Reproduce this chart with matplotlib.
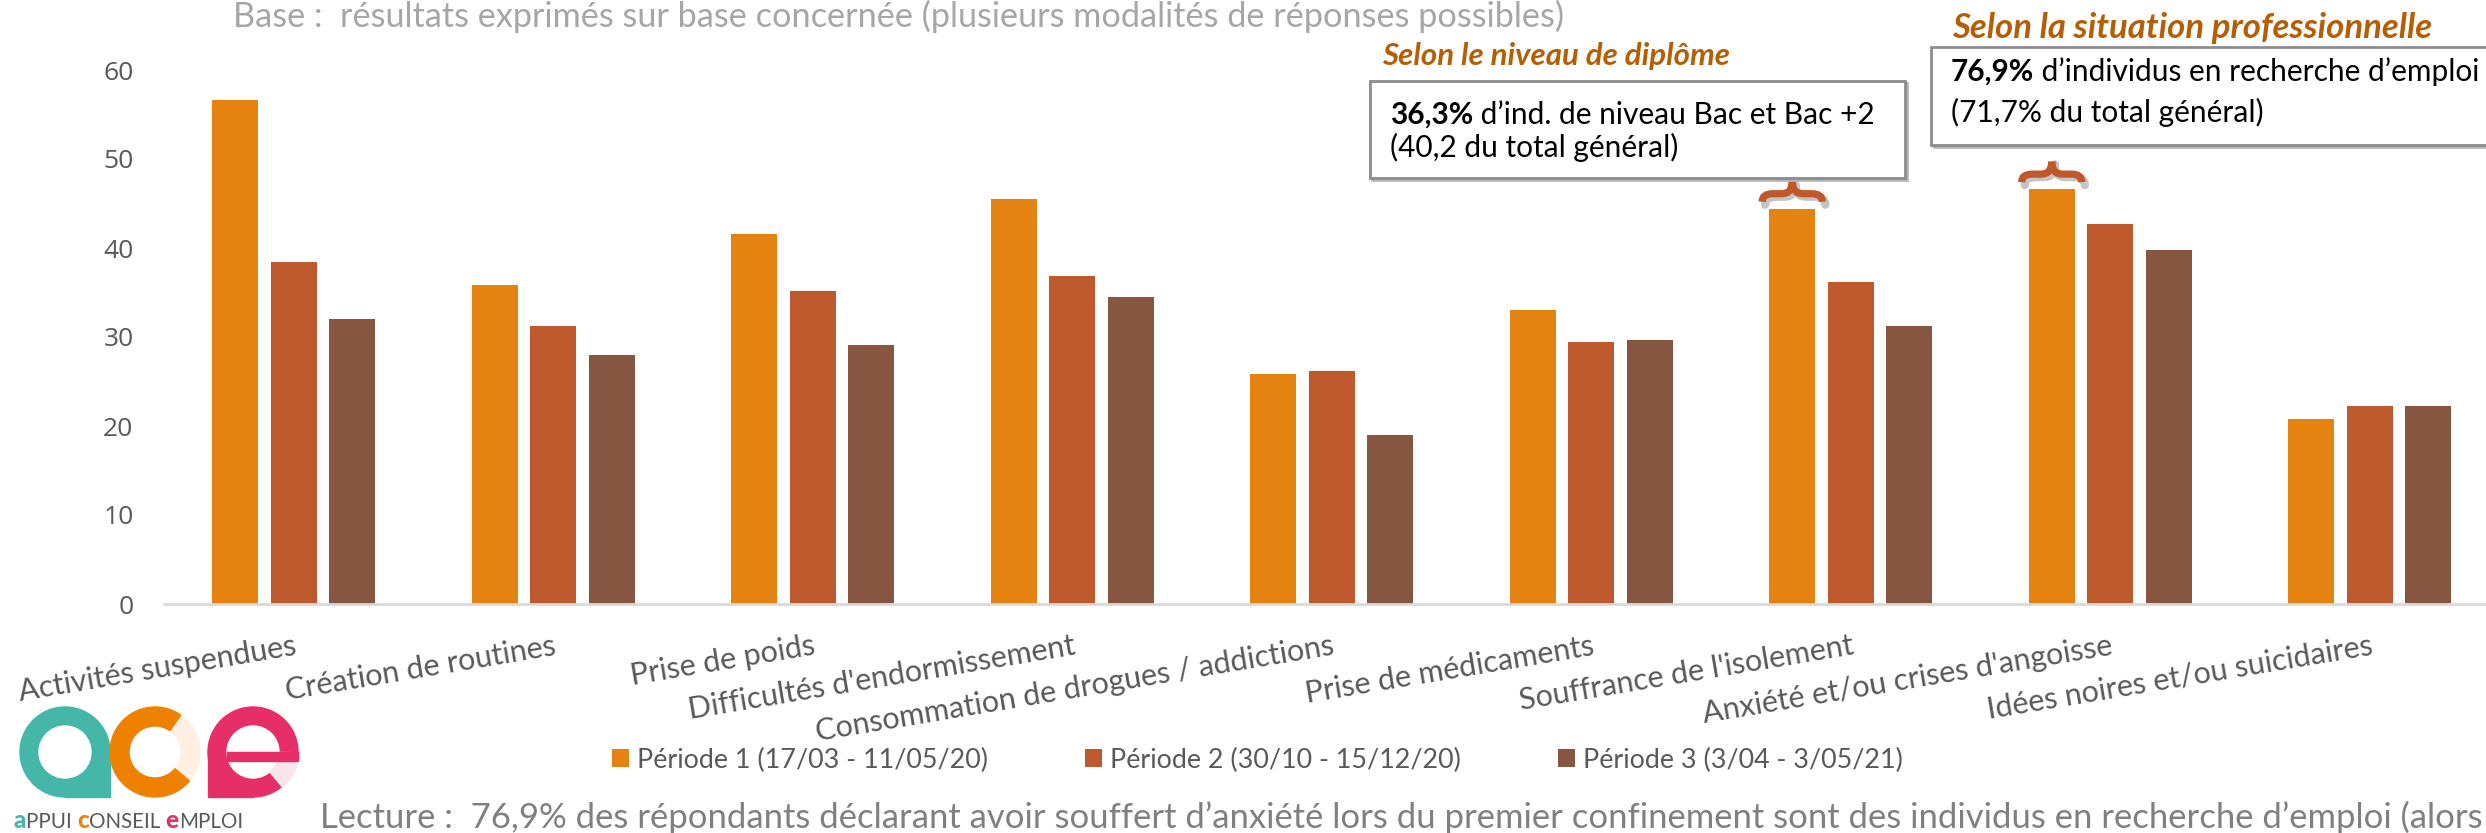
import matplotlib
matplotlib.use('Agg')
import matplotlib.pyplot as plt
import numpy as np
from matplotlib.patches import Rectangle, Circle, Wedge, PathPatch
from matplotlib.path import Path
import matplotlib.transforms as mtransforms

plt.rcParams['font.family'] = ['Lato', 'DejaVu Sans']

# ---------------- data ----------------
categories = ["Activités suspendues", "Création de routines", "Prise de poids",
              "Difficultés d'endormissement", "Consommation de drogues / addictions",
              "Prise de médicaments", "Souffrance de l'isolement",
              "Anxiété et/ou crises d'angoisse", "Idées noires et/ou suicidaires"]
periode1 = [56.6, 35.8, 41.6, 45.5, 25.8, 33.0, 44.4, 46.6, 20.8]
periode2 = [38.4, 31.2, 35.2, 36.9, 26.2, 29.4, 36.2, 42.7, 22.2]
periode3 = [32.0, 28.0, 29.1, 34.5, 19.0, 29.7, 31.2, 39.8, 22.2]
series_labels = ["Période 1 (17/03 - 11/05/20)", "Période 2 (30/10 - 15/12/20)",
                 "Période 3 (3/04 - 3/05/21)"]
yticks = [0, 10, 20, 30, 40, 50, 60]
brace_categories = ["Souffrance de l'isolement", "Anxiété et/ou crises d'angoisse"]

colors = ["#E58312", "#BE582D", "#875640"]
BRACE = "#C0582A"
TITLE_COL = "#B45F06"

W, H = 2486, 833
fig = plt.figure(figsize=(W / 100, H / 100), dpi=100)
def fx(px): return px / W
def fy(py): return 1 - py / H

ax = fig.add_axes([fx(164), fy(604), fx(2486) - fx(164), fy(70) - fy(604)])
ax.set_facecolor('none')
x = np.arange(len(categories))
pitch = 259.5
offsets = [-58.5 / pitch, 0.0, 58.5 / pitch]
bw = 46 / pitch
bars = []
for vals, off, col, lab in zip([periode1, periode2, periode3], offsets, colors, series_labels):
    bars.append(ax.bar(x + off, vals, width=bw, color=col, label=lab, zorder=2))

ax.set_xlim(-0.5, -0.5 + (2486 - 164) / pitch)
ax.set_ylim(0, 60)
ax.set_yticks(yticks)
ax.set_yticklabels([str(v) for v in yticks], family=['Open Sans', 'DejaVu Sans'],
                   fontsize=19, color="#595959")
ax.set_xticks(x)
ax.set_xticklabels(categories, rotation=9.5, ha='right', rotation_mode='anchor',
                   fontsize=22, color="#595959")
ax.tick_params(axis='y', length=0, pad=22)
ax.tick_params(axis='x', length=0, pad=20)
for s in ['top', 'right', 'left']:
    ax.spines[s].set_visible(False)
ax.spines['bottom'].set_color("#D9D9D9")
ax.spines['bottom'].set_linewidth(2)

# ---------------- braces ----------------
def brace(xc, v, half):
    xl, xr = xc - half, xc + half
    y0, y1, yt = v + 0.8, v + 1.7, v + 3.1
    r = half * 0.35
    verts = [(xl, y0), (xl, y1), (xl + r, y1), (xc - r, y1), (xc, y1), (xc, yt),
             (xc, yt), (xc, y1), (xc + r, y1), (xr - r, y1), (xr, y1), (xr, y0)]
    codes = [Path.MOVETO, Path.CURVE3, Path.CURVE3, Path.LINETO, Path.CURVE3, Path.CURVE3,
             Path.MOVETO, Path.CURVE3, Path.CURVE3, Path.LINETO, Path.CURVE3, Path.CURVE3]
    p = Path(verts, codes)
    sh = mtransforms.offset_copy(ax.transData, fig=fig, x=3, y=-3, units='dots')
    ax.add_patch(PathPatch(p, fill=False, edgecolor='#808080', alpha=0.45, lw=6,
                           capstyle='round', transform=sh, clip_on=False, zorder=4))
    ax.add_patch(PathPatch(p, fill=False, edgecolor=BRACE, lw=5.2, capstyle='butt',
                           clip_on=False, zorder=5))

for cat in brace_categories:
    i = categories.index(cat)
    brace(x[i] + offsets[0], periode1[i], 0.116)

# overlay axes (figure pixel coordinates) above the chart
over = fig.add_axes([0, 0, 1, 1])
over.set_xlim(0, W); over.set_ylim(0, H); over.axis('off')
over.set_zorder(10)

# ---------------- helper for multi-style text ----------------
def multi_text(xp, yp, parts, size, va='center'):
    s, kw = parts[0]
    kw = dict(kw); sz = kw.pop('size', size)
    t = over.annotate(s, xy=(xp, yp), xycoords='data', fontsize=sz, va=va, ha='left', **kw)
    for s, kw in parts[1:]:
        kw = dict(kw); sz = kw.pop('size', size)
        t = over.annotate(s, xy=(1, 0), xycoords=t, fontsize=sz, va='bottom', ha='left', **kw)
    return t

# ---------------- annotation boxes ----------------
def box(x0, y0, x1, y1):
    over.add_patch(Rectangle((x0 + 2, H - y1 - 2), x1 - x0, y1 - y0, fill=False,
                             edgecolor='#B8B8B8', lw=2, zorder=3))
    over.add_patch(Rectangle((x0, H - y1), x1 - x0, y1 - y0, facecolor='white',
                             edgecolor='#8C8C8C', lw=2, zorder=3.5))

box(1370, 81, 1905, 178)
box(1931, 47, 2500, 145)

over.text(1382, H - 56, "Selon le niveau de diplôme", fontsize=22.5, fontweight='bold',
          fontstyle='italic', color=TITLE_COL, va='center', ha='left')
over.text(1952, H - 28, "Selon la situation professionnelle", fontsize=25, fontweight='bold',
          fontstyle='italic', color=TITLE_COL, va='center', ha='left')

bk = dict(color='black', zorder=6)
multi_text(1390, H - 115, [("36,3%", dict(fontweight='bold', **bk)),
                           (" d’ind. de niveau Bac et Bac +2", bk)], 21.5)
over.text(1390, H - 147, "(40,2 du total général)", fontsize=21.5, va='center', ha='left', **bk)
multi_text(1951, H - 72, [("76,9%", dict(fontweight='bold', **bk)),
                          (" d’individus en recherche d’emploi", bk)], 21.5)
over.text(1951, H - 112, "(71,7% du total général)", fontsize=21.5, va='center', ha='left', **bk)

# ---------------- header / footer text ----------------
over.text(233, H - 16, "Base :  résultats exprimés sur base concernée (plusieurs modalités de réponses possibles)",
          fontsize=24.7, color="#A6A6A6", va='center', ha='left')
over.text(320, H - 817, "Lecture :  76,9% des répondants déclarant avoir souffert d’anxiété lors du premier confinement sont des individus en recherche d’emploi (alors",
          fontsize=24.9, color="#808080", va='center', ha='left')

# ---------------- legend ----------------
fig.legend(handles=bars, labels=series_labels, loc='center', ncol=3,
           bbox_to_anchor=(fx(1257), fy(760)), frameon=False, fontsize=19.4,
           handlelength=0.63, handleheight=0.63, handletextpad=0.3, columnspacing=3.6,
           labelcolor="#595959")

# ---------------- logo ----------------
lax = fig.add_axes([fx(15), 0, fx(305) - fx(15), 133 / H])
lax.set_xlim(0, 290); lax.set_ylim(0, 133); lax.axis('off')
TEAL, ORANGE, PINK = "#45B7A9", "#EE8200", "#E62E68"
LORANGE, LPINK = "#FEF0E2", "#FCE4EC"
R, r, cy = 45, 26, 81
# a
lax.add_patch(Circle((50, cy), R, color=TEAL))
lax.add_patch(Rectangle((50, cy - R), R, R, color=TEAL))
lax.add_patch(Circle((50, cy), r, color='white'))
# c
lax.add_patch(Wedge((140, cy), R, -40, 55, width=R - r, color=LORANGE))
lax.add_patch(Wedge((140, cy), R, 55, 320, width=R - r, color=ORANGE))
# e
lax.add_patch(Circle((238, cy), R, color=PINK))
lax.add_patch(Rectangle((238 - R, cy - R), R, R, color=PINK))
lax.add_patch(Circle((238, cy), r, color='white'))
lax.add_patch(Wedge((238, cy), R + 0.5, -50, -1, width=R - r + 0.5, color=LPINK))
lax.add_patch(Rectangle((238 - r, cy - 9), r + R, 9, color=PINK))

gray = dict(color="#595959")
multi_text(14, 12, [("a", dict(color=TEAL, fontweight='black', size=17.5)), ("PPUI ", gray),
                    ("c", dict(color=ORANGE, fontweight='black', size=17.5)), ("ONSEIL ", gray),
                    ("e", dict(color=PINK, fontweight='black', size=17.5)), ("MPLOI", gray)], 14.8)

fig.savefig("out.png", dpi=100)
